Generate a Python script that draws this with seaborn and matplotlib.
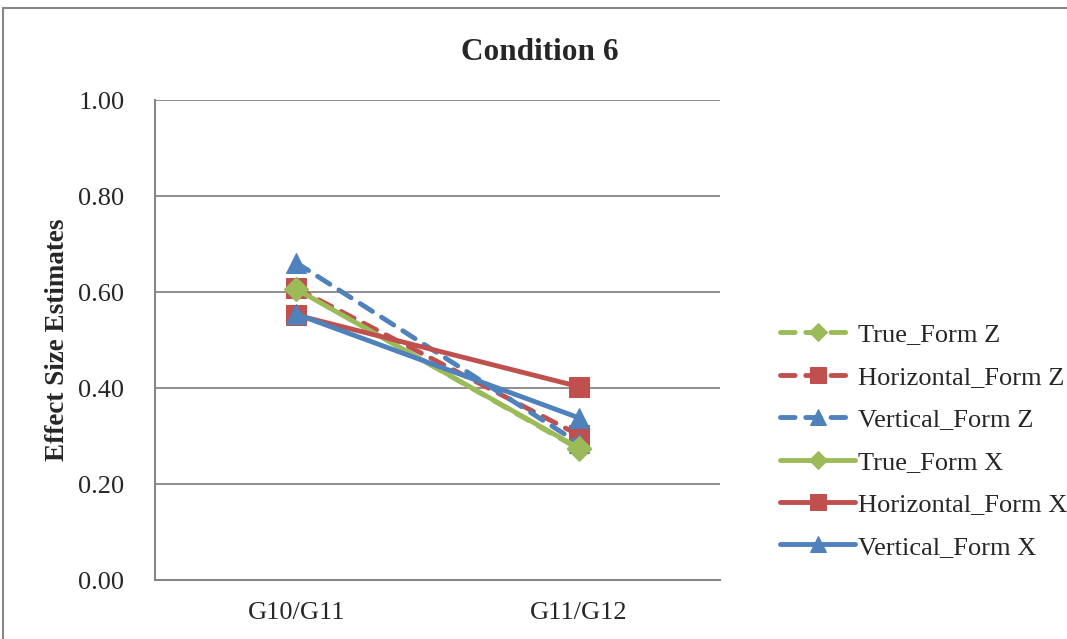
import matplotlib
matplotlib.use("Agg")
import matplotlib.pyplot as plt
from matplotlib.patches import Rectangle
import seaborn as sns
import pandas as pd

# Data
categories = ["G10/G11", "G11/G12"]
series_names = ["True_Form Z", "Horizontal_Form Z", "Vertical_Form Z",
                "True_Form X", "Horizontal_Form X", "Vertical_Form X"]
true_form_z = [0.607, 0.273]
horizontal_form_z = [0.608, 0.302]
vertical_form_z = [0.661, 0.285]
true_form_x = [0.606, 0.275]
horizontal_form_x = [0.552, 0.403]
vertical_form_x = [0.554, 0.338]
y_ticks = [0.0, 0.2, 0.4, 0.6, 0.8, 1.0]

values = [true_form_z, horizontal_form_z, vertical_form_z,
          true_form_x, horizontal_form_x, vertical_form_x]

df = pd.DataFrame({
    "pair": [c for _ in series_names for c in categories],
    "series": [s for s in series_names for _ in categories],
    "estimate": [v for vals in values for v in vals],
})

sns.set_theme(style="white")
plt.rcParams["font.family"] = ["Liberation Serif", "DejaVu Serif"]

GREEN, RED, BLUE = "#9BBB59", "#C0504D", "#4F81BD"
styles = {
    "True_Form Z": dict(color=GREEN, marker="D", dashed=True, ms=12),
    "Horizontal_Form Z": dict(color=RED, marker="s", dashed=True, ms=14),
    "Vertical_Form Z": dict(color=BLUE, marker="^", dashed=True, ms=15),
    "True_Form X": dict(color=GREEN, marker="D", dashed=False, ms=12),
    "Horizontal_Form X": dict(color=RED, marker="s", dashed=False, ms=14),
    "Vertical_Form X": dict(color=BLUE, marker="^", dashed=False, ms=15),
}

fig = plt.figure(figsize=(10.67, 6.39), dpi=100)
ax = fig.add_axes([0.1453, 0.0923, 0.5295, 0.7512])

# Outer chart frame (continues past the right and bottom edges)
fig.patches.append(Rectangle((3 / 1067, -0.2), 1.2, 1 - 8 / 639 + 0.2,
                             transform=fig.transFigure, fill=False,
                             edgecolor="#868686", linewidth=1.5))

for name in series_names:
    st = styles[name]
    sub = df[df["series"] == name]
    sns.lineplot(data=sub, x="pair", y="estimate", ax=ax, color=st["color"],
                 marker=st["marker"], markersize=st["ms"],
                 markeredgecolor=st["color"], linewidth=3.5,
                 label=name, sort=False)
    line = ax.get_lines()[-1]
    line.set_solid_capstyle("round")
    if st["dashed"]:
        line.set_dashes([3, 2.2])
        line.set_dash_capstyle("round")

ax.set_xlim(-0.5, 1.5)
ax.set_ylim(0, 1.0)
ax.set_yticks(y_ticks)
ax.set_yticklabels([f"{t:.2f}" for t in y_ticks])
ax.yaxis.grid(True, color="#868686", linewidth=1.3)
ax.xaxis.grid(False)
ax.set_axisbelow(True)
ax.tick_params(axis="x", length=0, labelsize=19, pad=16)
ax.tick_params(axis="y", length=0, labelsize=19, pad=22)
for side in ["top", "right"]:
    ax.spines[side].set_visible(False)
for side in ["left", "bottom"]:
    ax.spines[side].set_color("#868686")
    ax.spines[side].set_linewidth(1.5)

ax.set_xlabel("")
ax.set_ylabel("Effect Size Estimates", fontsize=19.5, fontweight="bold", labelpad=6)
fig.text(0.506, 0.918, "Condition 6", ha="center", va="center",
         fontsize=22.5, fontweight="bold")

handles, labels = ax.get_legend_handles_labels()
ax.legend(handles, labels, loc="center left", bbox_to_anchor=(1.088, 0.29),
          frameon=False, fontsize=19, handlelength=2.85, handletextpad=0.1,
          labelspacing=0.72, borderaxespad=0, markerscale=0.8)

fig.savefig("out.png", dpi=100)
